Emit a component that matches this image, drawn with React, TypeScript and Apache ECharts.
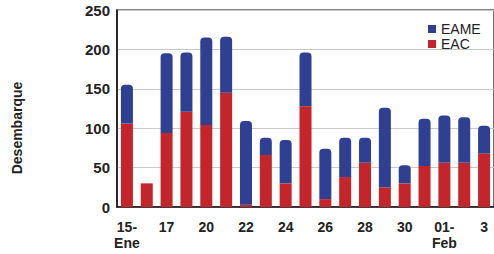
import React, { useEffect, useRef } from "react";
import * as echarts from "echarts";

const categories = [
  "15-\nEne", "16", "17", "19", "20", "21", "22", "23", "24", "25",
  "26", "27", "28", "29", "30", "31", "01-\nFeb", "2", "3",
];
const eac = [106, 30, 94, 121, 104, 145, 3, 66, 30, 128, 10, 38, 56, 25, 30, 52, 56, 56, 68];
const eame = [49, 0, 101, 75, 111, 71, 106, 22, 55, 68, 64, 50, 32, 101, 23, 60, 60, 58, 35];
const yTicks = { min: 0, max: 250, interval: 50 };

export default function App() {
  const ref = useRef<HTMLDivElement>(null);
  useEffect(() => {
    if (!ref.current) return;
    const chart = echarts.init(ref.current, undefined, { renderer: "svg" });
    chart.setOption({
      animation: false,
      backgroundColor: "#ffffff",
      grid: {
        left: 117, top: 10, bottom: 47, right: -7,
        show: true, borderColor: "#111", borderWidth: 1.2, backgroundColor: "transparent",
      },
      legend: {
        data: ["EAME", "EAC"],
        orient: "vertical",
        left: 423, top: 17,
        itemWidth: 8, itemHeight: 8, itemGap: 1,
        icon: "rect",
        textStyle: { fontFamily: "Liberation Sans", fontSize: 14, color: "#222" },
      },
      graphic: [
        {
          type: "text", x: 17, y: 128, rotation: Math.PI / 2,
          style: {
            text: "Desembarque", fontFamily: "Liberation Sans", fontWeight: "bold", fontSize: 14,
            fill: "#222", textAlign: "center", textVerticalAlign: "middle",
          },
        },
      ],
      xAxis: {
        type: "category",
        data: categories,
        axisLine: { lineStyle: { color: "#111", width: 1.5 } },
        axisTick: { show: false },
        axisLabel: {
          interval: 1, fontFamily: "Liberation Sans", fontWeight: "bold", fontSize: 14,
          color: "#222", lineHeight: 16, margin: 12,
        },
      },
      yAxis: {
        type: "value",
        min: yTicks.min, max: yTicks.max, interval: yTicks.interval,
        axisLine: { show: true, lineStyle: { color: "#111", width: 1.5 } },
        axisTick: { show: false },
        splitLine: { lineStyle: { color: "#c8c8c8" } },
        axisLabel: {
          fontFamily: "Liberation Sans", fontWeight: "bold", fontSize: 15, color: "#222", margin: 7,
          padding: [8, 0, 0, 0],
        },
      },
      series: [
        {
          name: "EAC", type: "bar", stack: "t", data: eac, barWidth: 12,
          itemStyle: { color: "#c3252b" },
        },
        {
          name: "EAME", type: "bar", stack: "t", data: eame, barWidth: 12,
          itemStyle: { color: "#2f3f91", borderRadius: [4, 4, 0, 0] },
        },
      ],
    });
    return () => chart.dispose();
  }, []);
  return (
    <div
      ref={ref}
      style={{ position: "absolute", left: 0, top: 0, width: 494, height: 254 }}
    />
  );
}
